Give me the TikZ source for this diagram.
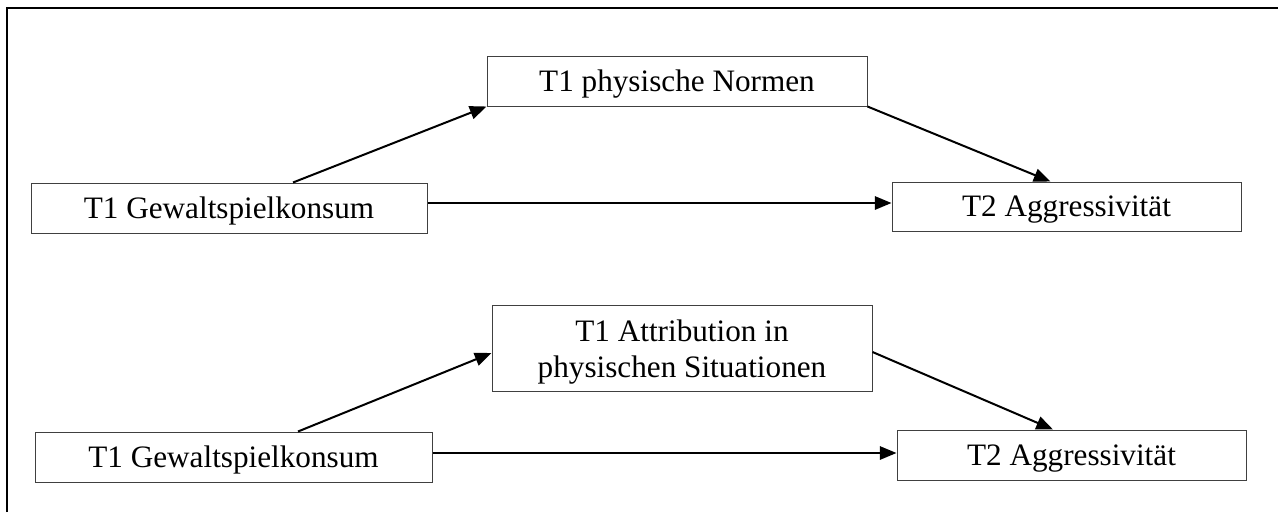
\documentclass[tikz,border=0pt]{standalone}
\usepackage{fontspec}
\setmainfont{Liberation Serif}
\usetikzlibrary{arrows.meta,calc}
\begin{document}
\begin{tikzpicture}[x=0.75pt,y=-0.75pt,
  txt/.style={font=\fontsize{23.4}{27}\selectfont},
  box/.style={draw=black!75,line width=0.75pt,inner sep=0pt,txt},
  onel/.style={text height=15.2pt,text depth=0pt},
  arr/.style={line width=1.5pt,-{Triangle[length=12.5pt,width=10pt]}},
  frame/.style={line width=1.5pt}]
\useasboundingbox (0,0) rectangle (1278,512);
% outer frame (top and left)
\draw[frame] (7,512) -- (7,8) -- (1278,8);

% first model
\node[box,onel,minimum width=297pt,minimum height=37.5pt] (tl) at (229,208) {T1 Gewaltspielkonsum};
\node[box,onel,minimum width=285pt,minimum height=37.5pt] (tm) at (677,81) {T1 physische Normen};
\node[box,onel,minimum width=261.75pt,minimum height=36.75pt] (tr) at (1066.5,206.5) {T2 Aggressivität};

\draw[arr] ($(tl.north)+(64,0)$) -- (tm.south west);
\draw[arr] (tm.south east) -- ($(tr.north)+(-16,0)$);
\draw[arr] ($(tl.east)+(0,-5)$) coordinate (h1) -- (h1 -| tr.west);

% second model
\node[box,onel,minimum width=297.75pt,minimum height=37.5pt] (bl) at (233.5,457) {T1 Gewaltspielkonsum};
\node[box,minimum width=285pt,minimum height=64.5pt] (bm) at (682,348) {};
\node[txt,align=center,inner sep=0pt] (bmtext) at ($(bm.center)+(0,4)$) {T1 Attribution in\\physischen Situationen};
\node[box,onel,minimum width=261.75pt,minimum height=37.5pt] (br) at (1071.5,455) {T2 Aggressivität};

\draw[arr] ($(bl.north)+(64.5,0)$) -- ($(bm.west)+(0,5)$);
\draw[arr] ($(bm.east)+(0,4)$) -- ($(br.north)+(-18.5,0)$);
\draw[arr] ($(bl.east)+(0,-4)$) coordinate (h2) -- (h2 -| br.west);
\end{tikzpicture}
\end{document}
